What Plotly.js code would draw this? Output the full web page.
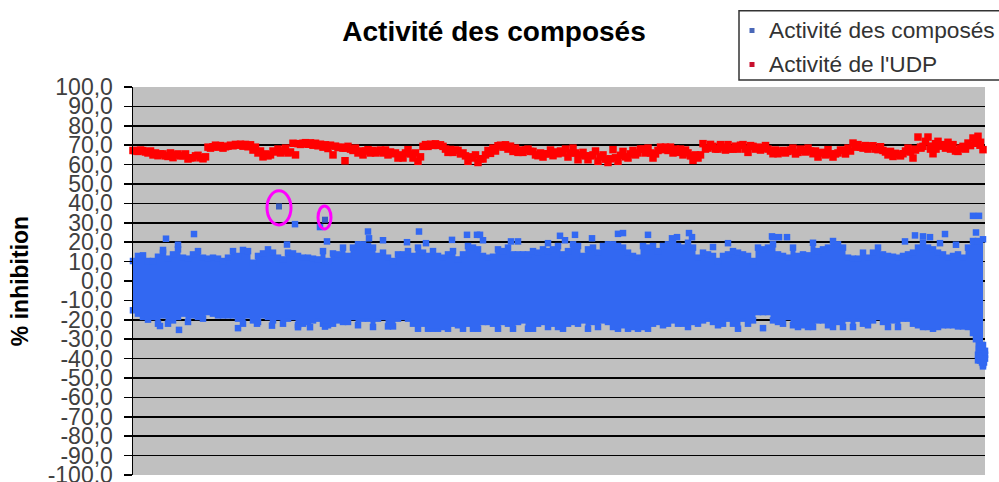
<!DOCTYPE html>
<html>
<head>
<meta charset="utf-8">
<script src="https://cdn.plot.ly/plotly-3.0.1.min.js"></script>
<style>html,body{margin:0;padding:0;background:#fff;overflow:hidden}#c{width:999px;height:482px}</style>
</head>
<body>
<div id="c"></div>
<script>
const wellStep = 5;
const udpValues = [67.3,66.8,67.2,66,65,64.6,65.5,64.2,63.6,65.5,64.6,62.9,63.5,64.8,63,69,69.2,69,68.5,69.5,69.7,70,69.5,69.2,67.5,66,64,64.5,67,68,67,66,71,70.8,71,70.5,70,69.7,69,68.3,65,68.8,68.5,
69.4,67.3,66,65,67.7,67.3,66.8,66,65,65.6,63.4,63.4,67.7,63.4,61.7,69.4,69.4,69.9,69.9,69.4,66.3,66.3,67.3,66,61.7,63.4,61.1,62.9,67.3,68.5,69.7,69,68,66.8,66.3,66.3,68,66.8,64.6,63.9,65.6,64.6,65.6,
66,63.9,68.5,62.5,66.3,62.5,65,61.7,65,61.1,67.7,61.7,66.8,63.4,67.3,66,68,68.5,63.4,67.3,67.7,67.3,66,66.3,65,66,62.2,63.4,70.8,68.5,69.4,68,69,70.3,68,68,70.3,66.3,69.4,69,68.5,68,65.6,
65.6,67.3,66.8,68.5,66.3,67.3,68.5,65.6,63.9,66.3,67.7,63.9,66,67.3,68.5,71.1,70.3,68.5,68,69.7,67.7,67.3,65,64.2,65,65.6,68.5,63.4,74.2,69.4,74.2,65.6,72,70.3,71.5,70.3,66.8,69.4,71.1,73.7,74.6,67.7];
const udpSecondPass = [67,67.5,66.5,67,66,65.5,64.5,66,65,64.5,65.5,63.5,64.5,63.5,64,
68.5,70,69.8,69.2,70,70.4,70.5,70.4,70.2,69,67,65.5,65,66.5,66,68.5,66.5,65,70.4,71.3,71.2,71,70.5,70.2,70,69.5,69,68.5,
68,68.5,67,67,66,66,67.5,67.5,66.5,66,65,66,65.5,66,64,70.3,70.5,70.7,70.2,68,67.8,67.5,65.5,64.5,64,65,63,65,65.8,67,70,70.2,69.5,68.5,67.5,67.5,66.8,65,66,65.5,67.5,66.5,67,
68,66,66,65,64.5,64.5,67,64,62.8,63,63.5,64.8,64,65.5,65,68,66,66,65.5,69,69,69,68,68,67.5,64.5,65,65,68,70.4,68,70.3,67.5,68,69.5,70,68,69.8,68,67.5,69.8,67,67.5,
66.5,66,67.5,65.5,68,66.5,67,67,66,65,65.5,65.5,67.5,65.5,67,69,69,69.8,69.5,68,69.2,66.5,66.8,65.8,64.5,67,66.5,67.5,69,72,68,70.8,69.5,68.5,68,67,68.5,68,69.8,71,71.5,64];
const udpExtraX = [853,853,212,782,788,798,803,847];
const udpExtraY = [63.4,67.5,62,68,68.5,69.5,68,70];

const compoundHigh = [10.3,12.9,13.2,10.3,10.3,12.5,14.6,11.5,13.7,16.3,12,11.5,13.7,15.4,12,11.5,12,11.5,10.3,12,15.4,12.9,16,15.4,9.4,12.9,14.2,16.3,14.6,12,11.1,14.6,14.2,12.9,12,12,11.5,11.1,15.4,10.3,14.2,13.7,17.2,
12.9,17.2,18.9,18.9,18,17.2,12.9,14.6,12,10.3,13.7,13.7,15.4,12.9,17.2,14.6,12.9,15.4,12.9,12,13.7,15.4,11.1,13.7,18,17.2,16.3,12.9,12,12.5,16.3,15.4,17.2,13.7,13.7,13.7,13.7,15.4,14.6,16.3,15.4,16.3,18,
13.7,15.4,18.9,18,12.9,16.3,17.2,14.6,18,18.9,18.9,18,17.2,14.6,12.9,12,18,17.2,18,15.4,18,18.9,19.7,18,17.2,19.7,17.2,12,14.6,13.7,12.9,10.3,12.9,13.7,15.4,14.6,13.7,12.9,10.3,17.2,16.3,17.2,18.9,
13.7,12.9,12,17.2,12.9,13.7,13.2,19.7,15.4,16.3,17.2,20.6,18.9,17.2,12,11.5,11.5,14.6,12,14.6,17.2,13.7,12.9,12.5,12,12.9,13.7,14.6,17.2,19.7,17.2,16.3,14.6,13.7,12,12.9,13.7,12,17.2,20.6,20.6,21.5];
const compoundLow = [-15.1,-16.8,-18.5,-19.9,-18.5,-22,-17.7,-22,-20.3,-18.5,-16.8,-21.1,-17.7,-18.5,-19.4,-16,-16.8,-17.7,-17.7,-17.7,-17.7,-19.4,-22,-17.7,-20.3,-21.1,-17.7,-18.5,-20.3,-18.5,-22,-19.4,-18.5,-22.8,-22,-21.1,-20.3,-19.4,-22,-22.8,-22,-20.3,-21.1,
-21.1,-18.5,-22.8,-19.4,-19.4,-23.7,-19.4,-18.5,-23.4,-23.4,-19.4,-18.5,-19.4,-22,-24.6,-22,-24.6,-24.6,-24.6,-23.7,-24.6,-22,-22.8,-24.6,-22,-24.6,-24.6,-21.1,-21.1,-22,-24.6,-21.1,-22,-24.6,-21.1,-20.3,-24.6,-24.6,-22,-21.1,-23.7,-22,-23.7,
-24.6,-22,-21.1,-22,-20.3,-24.6,-21.1,-23.7,-20.3,-21.1,-23.7,-24.6,-22.8,-24.6,-23.7,-24.6,-23.7,-24.6,-22,-21.1,-22.8,-22,-20.3,-22,-22,-23.7,-21.1,-22,-20.3,-19.4,-21.1,-22.8,-22,-19.4,-22,-24.6,-19.4,-22,-20.3,-16,-16,-16,-20.3,
-21.1,-22,-18.5,-22.8,-23.7,-22.8,-23.7,-23.7,-20.3,-20.3,-22.8,-23.7,-21.1,-23.7,-19.4,-23.7,-19.4,-22,-22.8,-20.3,-18.5,-21.1,-23.7,-20.3,-23.7,-19.4,-19.4,-22,-22.8,-23.7,-23.7,-24.6,-23.7,-22.8,-22.8,-22.8,-23.4,-23.4,-23.7,-26.8,-40.9,-43];
const scatterX = [33,61,30,45,162,187,154,194,46,27,105,124,139,165,177,192,235,286,334,344,347,350,319,250,274,293,378,385,415,236,427,442,432,459,485,490,515,539,544,556,559,595,639,580,630,640,646,654,772,782,790,797,812,807,823,843,840,846,843,845,847,850,849,852,
-1,-1,-1,-1,-1,-1,-1,-1,853,853,853,853,853,853,853,853,853,853,853,850,852,846,848,850,852,846,851];
const scatterY = [21.8,24.2,16,18.7,29.3,27.8,18.8,20.4,-25.2,-23.2,-24.3,-22,-23,-23.8,-23.8,-23.5,25.5,25.5,23.8,23.8,23.8,21,21.2,21,20,19.5,20.4,20.4,19.5,22,23.3,23.8,21,22,24.3,24.7,23.8,22,22.6,24.7,22.6,19.5,23,17.5,-24.3,22.6,22.6,22.6,20.4,23.5,23,22.6,24.2,19.5,18.7,25,33.6,33.6,-30,-38,-41,-36,-42,-38,
8,4,0,-4,-8,-11,-13,-14,19,13,8,2,-4,-9,-14,-19,-24,-28,-33,-33,-36,-35,-34,-44,-40,-39,-42];
const circledX = [146,192];
const circledY = [38.4,31.6];
const tickValues = [100,90,80,70,60,50,40,30,20,10,0,-10,-20,-30,-40,-50,-60,-70,-80,-90,-100];
const tickLabels = ["100,0","90,0","80,0","70,0","60,0","50,0","40,0","30,0","20,0","10,0","0,0","-10,0","-20,0","-30,0","-40,0","-50,0","-60,0","-70,0","-80,0","-90,0","-100,0"];
const titleText = "Activité des composés";
const compoundName = "Activité des composés";
const udpName = "Activité de l'UDP";
const axisTitle = "% inhibition";

const BLUE = "#3268F2", RED = "#FF0000";
const wellX = udpValues.map((_, i) => i * wellStep);
const wellXShifted = udpValues.map((_, i) => i * wellStep + 2.5);
const sq = (c, s) => ({symbol: "square", size: s, color: c, line: {width: 0}});

const traces = [
  {x: wellX, y: compoundLow, mode: "markers", marker: sq(BLUE, 6.5), cliponaxis: false, showlegend: false, hoverinfo: "skip"},
  {x: wellX, y: compoundLow, mode: "lines", line: {width: 0, shape: "hvh"}, showlegend: false, hoverinfo: "skip"},
  {x: wellX, y: compoundHigh, mode: "lines", line: {width: 0, shape: "hvh"}, fill: "tonexty", fillcolor: BLUE, showlegend: false, hoverinfo: "skip"},
  {x: wellX, y: compoundHigh, mode: "markers", name: compoundName, marker: sq(BLUE, 6.5), cliponaxis: false, showlegend: false},
  {x: scatterX, y: scatterY, mode: "markers", marker: sq(BLUE, 6.5), cliponaxis: false, showlegend: false},
  {x: circledX, y: circledY, mode: "markers", marker: sq("#3A5FC4", 6), cliponaxis: false, showlegend: false},
  {x: wellX, y: udpValues, mode: "markers", name: udpName, marker: sq(RED, 7.5), cliponaxis: false, showlegend: false},
  {x: wellXShifted, y: udpSecondPass, mode: "markers", marker: sq(RED, 7.5), cliponaxis: false, showlegend: false},
  {x: udpExtraX, y: udpExtraY, mode: "markers", marker: sq(RED, 7.5), cliponaxis: false, showlegend: false}
];

const layout = {
  width: 999, height: 482, paper_bgcolor: "#fff", plot_bgcolor: "#C0C0C0",
  margin: {l: 133, r: 14, t: 87, b: 7, pad: 0},
  font: {family: "Liberation Sans, Arial, sans-serif", color: "#404040"},
  title: {text: titleText, x: 494 / 999, xref: "container", xanchor: "center", y: 1 - 31 / 482, yref: "container", yanchor: "middle", font: {size: 28, color: "#000", weight: 700}},
  xaxis: {range: [0, 852], showgrid: false, zeroline: false, showticklabels: false, ticks: "", showline: false},
  yaxis: {range: [-100, 100], tickmode: "array", tickvals: tickValues, ticktext: tickLabels,
    tickfont: {size: 23, color: "#404040"}, ticks: "outside", ticklen: 8, tickwidth: 1.5, tickcolor: "#000", ticklabelstandoff: 6, ticklabeloverflow: "allow",
    showgrid: true, gridcolor: "#000", gridwidth: 1.5, zeroline: false, showline: true, linecolor: "#000", linewidth: 1.5,
    title: {text: axisTitle, standoff: 12, font: {size: 23, color: "#000", weight: 700}}},
  shapes: [
    {type: "circle", xref: "x", yref: "y", x0: 134, x1: 158, y0: 28.9, y1: 46.5, line: {color: "#FF00FF", width: 3}},
    {type: "circle", xref: "x", yref: "y", x0: 185, x1: 198, y0: 26.8, y1: 38.7, line: {color: "#FF00FF", width: 3}},
    {type: "rect", xref: "paper", yref: "paper", x0: 606 / 852, x1: 870 / 852, y0: (475 - 80) / 388, y1: (475 - 10.7) / 388, fillcolor: "#fff", line: {color: "#333", width: 1.5}},
    {type: "rect", xref: "paper", yref: "paper", x0: 616.5 / 852, x1: 621.5 / 852, y0: (475 - 33) / 388, y1: (475 - 28) / 388, fillcolor: "#4A68B8", line: {width: 0}},
    {type: "rect", xref: "paper", yref: "paper", x0: 616.5 / 852, x1: 621.5 / 852, y0: (475 - 67) / 388, y1: (475 - 62) / 388, fillcolor: "#C8102E", line: {width: 0}}
  ],
  annotations: [
    {xref: "paper", yref: "paper", x: 634 / 852, y: (475 - 30) / 388, xanchor: "left", yanchor: "middle", text: compoundName, showarrow: false, font: {size: 22.7, color: "#333"}},
    {xref: "paper", yref: "paper", x: 634 / 852, y: (475 - 64) / 388, xanchor: "left", yanchor: "middle", text: udpName, showarrow: false, font: {size: 22.7, color: "#333"}}
  ]
};
Plotly.newPlot("c", traces, layout, {displayModeBar: false, staticPlot: true});
</script>
</body>
</html>
